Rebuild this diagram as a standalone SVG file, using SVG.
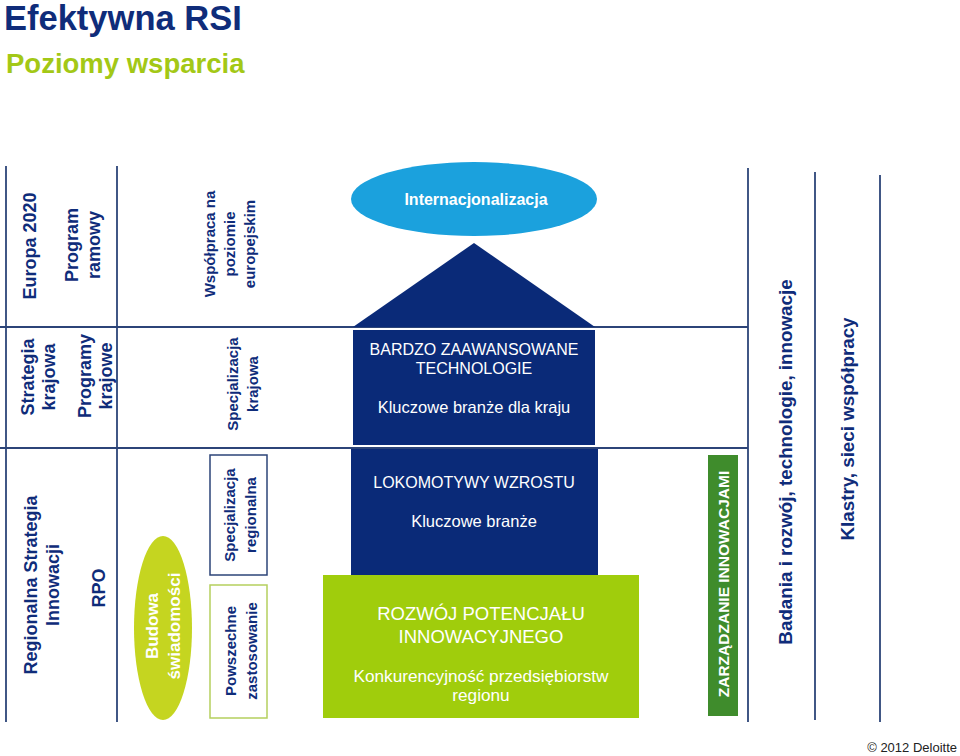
<svg xmlns="http://www.w3.org/2000/svg" width="960" height="756" viewBox="0 0 960 756">
<style>
text{font-family:"Liberation Sans",Arial,sans-serif}
.navy{fill:#0f2c7a;font-weight:bold}
.c1{font-size:18px}
.c2{font-size:15px}
.wb{fill:#fff;font-weight:bold}
.w{fill:#fff}
.ln{stroke:#2c4478;stroke-width:1.8;fill:none}
</style>
<rect width="960" height="756" fill="#fff"/>
<text x="4" y="30" font-size="34.5" font-weight="bold" fill="#0f2c7a">Efektywna RSI</text>
<text x="6" y="73" font-size="27.5" font-weight="bold" fill="#a3c816">Poziomy wsparcia</text>

<g id="connectors">
<line class="ln" x1="6" y1="166" x2="6" y2="722"/>
<line class="ln" x1="117" y1="166" x2="117" y2="722"/>
<line class="ln" x1="748" y1="168" x2="748" y2="722"/>
<line class="ln" x1="815" y1="172" x2="815" y2="720"/>
<line class="ln" x1="880" y1="175" x2="880" y2="722"/>
<line class="ln" x1="0" y1="327" x2="748" y2="327"/>
<line class="ln" x1="0" y1="448" x2="748" y2="448"/>
</g>

<g id="europa2020"><text class="navy c1" text-anchor="middle" transform="translate(36,246) rotate(-90)">Europa 2020</text></g>
<g id="program-ramowy"><text class="navy c1" text-anchor="middle" transform="translate(78,245) rotate(-90)"><tspan x="0" y="0">Program</tspan><tspan x="0" y="22">ramowy</tspan></text></g>
<g id="strategia-krajowa"><text class="navy c1" text-anchor="middle" transform="translate(34,377) rotate(-90)"><tspan x="0" y="0">Strategia</tspan><tspan x="0" y="21">krajowa</tspan></text></g>
<g id="programy-krajowe"><text class="navy c1" text-anchor="middle" transform="translate(91,376) rotate(-90)"><tspan x="0" y="0">Programy</tspan><tspan x="0" y="21">krajowe</tspan></text></g>
<g id="rsi"><text class="navy c1" text-anchor="middle" transform="translate(37,585) rotate(-90)"><tspan x="0" y="0">Regionalna Strategia</tspan><tspan x="0" y="22">Innowacji</tspan></text></g>
<g id="rpo"><text class="navy c1" text-anchor="middle" transform="translate(105,588) rotate(-90)">RPO</text></g>

<g id="budowa">
<ellipse cx="163" cy="628" rx="29" ry="92" fill="#c5d520"/>
<text class="wb" font-size="17" text-anchor="middle" transform="translate(158,626) rotate(-90)"><tspan x="0" y="0">Budowa</tspan><tspan x="0" y="22">świadomości</tspan></text>
</g>

<g id="wspolpraca"><text class="navy c2" text-anchor="middle" transform="translate(215,244) rotate(-90)"><tspan x="0" y="0">Współpraca na</tspan><tspan x="0" y="20">poziomie</tspan><tspan x="0" y="40">europejskim</tspan></text></g>
<g id="spec-krajowa"><text class="navy c2" text-anchor="middle" transform="translate(238,384) rotate(-90)"><tspan x="0" y="0">Specjalizacja</tspan><tspan x="0" y="20">krajowa</tspan></text></g>
<g id="spec-regionalna">
<rect x="210" y="455" width="57" height="120" fill="none" stroke="#2c4478" stroke-width="1.5"/>
<text class="navy c2" text-anchor="middle" transform="translate(235,515) rotate(-90)"><tspan x="0" y="0">Specjalizacja</tspan><tspan x="0" y="21">regionalna</tspan></text>
</g>
<g id="powszechne">
<rect x="210" y="585" width="57" height="133" fill="none" stroke="#b5cf5e" stroke-width="1.5"/>
<text class="navy c2" text-anchor="middle" transform="translate(236,651) rotate(-90)"><tspan x="0" y="0">Powszechne</tspan><tspan x="0" y="21">zastosowanie</tspan></text>
</g>

<g id="internacjonalizacja">
<ellipse cx="474" cy="199" rx="123" ry="37" fill="#1ba1dd"/>
<text class="wb" font-size="16" x="476" y="205" text-anchor="middle">Internacjonalizacja</text>
</g>
<g id="bardzo">
<polygon points="474,243 595,327 353,327" fill="#0a2a78"/>
<rect x="353" y="330" width="242" height="115" fill="#0a2a78"/>
<text class="w" font-size="16" text-anchor="middle"><tspan x="474" y="355">BARDZO ZAAWANSOWANE</tspan><tspan x="474" y="374">TECHNOLOGIE</tspan><tspan x="474" y="413" font-size="16.5">Kluczowe branże dla kraju</tspan></text>
</g>
<g id="lokomotywy">
<rect x="351" y="449" width="247" height="126" fill="#0a2a78"/>
<text class="w" font-size="16" text-anchor="middle"><tspan x="474" y="488">LOKOMOTYWY WZROSTU</tspan><tspan x="474" y="527" font-size="16.5">Kluczowe branże</tspan></text>
</g>
<g id="rozwoj">
<rect x="323" y="575" width="316" height="143" fill="#a0cd0c"/>
<text class="w" text-anchor="middle"><tspan x="481" y="620" font-size="18.5">ROZWÓJ POTENCJAŁU</tspan><tspan x="481" y="643" font-size="18.5">INNOWACYJNEGO</tspan><tspan x="481" y="682" font-size="17.2">Konkurencyjność przedsiębiorstw</tspan><tspan x="481" y="701" font-size="17.2">regionu</tspan></text>
</g>

<g id="zarzadzanie">
<rect x="708" y="455" width="30" height="261" fill="#3f8c2c"/>
<text class="wb" font-size="15.5" text-anchor="middle" transform="translate(729,584) rotate(-90)">ZARZĄDZANIE INNOWACJAMI</text>
</g>
<g id="badania"><text class="navy" font-size="18.8" text-anchor="middle" transform="translate(792,462) rotate(-90)">Badania i rozwój, technologie, innowacje</text></g>
<g id="klastry"><text class="navy" font-size="18.8" text-anchor="middle" transform="translate(854,429) rotate(-90)">Klastry, sieci współpracy</text></g>

<text x="957" y="752" font-size="13" fill="#222" text-anchor="end">© 2012 Deloitte</text>
</svg>
